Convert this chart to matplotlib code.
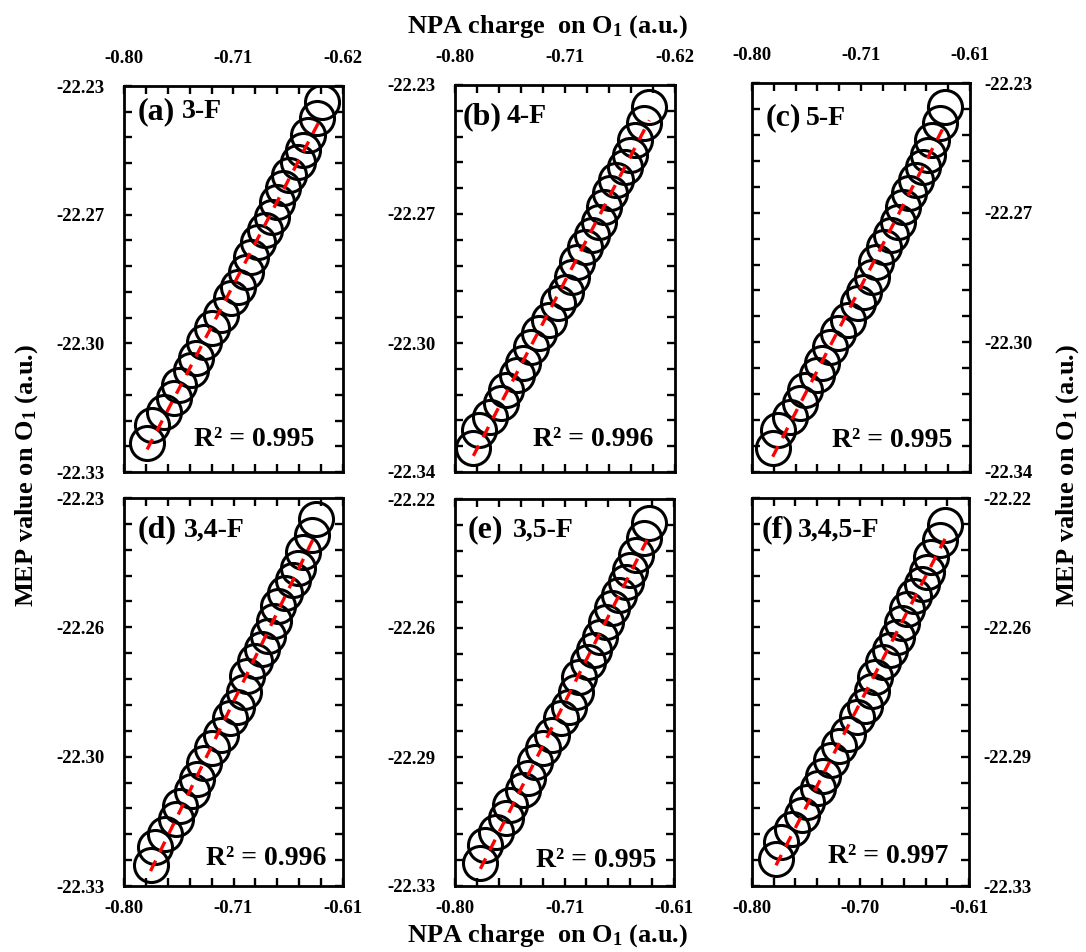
import numpy as np
import matplotlib
matplotlib.use("Agg")
import matplotlib.pyplot as plt
from matplotlib.ticker import FixedLocator, FixedFormatter

plt.rcParams['font.family'] = ['Liberation Serif', 'DejaVu Serif']
plt.rcParams['font.weight'] = 'bold'
plt.rcParams['mathtext.fontset'] = 'custom'
plt.rcParams['mathtext.rm'] = 'Liberation Serif:bold'
plt.rcParams['mathtext.it'] = 'Liberation Serif:bold'
plt.rcParams['mathtext.bf'] = 'Liberation Serif:bold'

# ---- data ----
panel_tags = ["(a)", "(b)", "(c)", "(d)", "(e)", "(f)"]
panel_names = ["3-F", "4-F", "5-F", "3,4-F", "3,5-F", "3,4,5-F"]
r2_values = ["0.995", "0.996", "0.995", "0.996", "0.995", "0.997"]

x_a = [-0.781, -0.777, -0.767, -0.759, -0.755, -0.745, -0.741, -0.734, -0.728, -0.720, -0.712, -0.706, -0.700,
       -0.696, -0.690, -0.684, -0.678, -0.674, -0.669, -0.664, -0.657, -0.653, -0.649, -0.641, -0.637]
y_a = [-22.3225, -22.3178, -22.3144, -22.3108, -22.3075, -22.3036, -22.3005, -22.2963, -22.2927, -22.2893,
       -22.2849, -22.2821, -22.2782, -22.2743, -22.2704, -22.2673, -22.2639, -22.2600, -22.2564, -22.2531,
       -22.2497, -22.2466, -22.2427, -22.2383, -22.2341]

x_b = [-0.785, -0.780, -0.771, -0.762, -0.758, -0.749, -0.744, -0.738, -0.731, -0.723, -0.716, -0.709, -0.704,
       -0.700, -0.694, -0.688, -0.682, -0.678, -0.673, -0.668, -0.661, -0.657, -0.653, -0.645, -0.641]
y_b = [-22.3332, -22.3280, -22.3243, -22.3203, -22.3166, -22.3124, -22.3090, -22.3044, -22.3004, -22.2968,
       -22.2919, -22.2888, -22.2845, -22.2803, -22.2760, -22.2726, -22.2689, -22.2647, -22.2607, -22.2570,
       -22.2533, -22.2499, -22.2456, -22.2408, -22.2363]

x_c = [-0.782, -0.777, -0.767, -0.758, -0.754, -0.743, -0.739, -0.732, -0.725, -0.716, -0.708, -0.702, -0.695,
       -0.692, -0.685, -0.679, -0.673, -0.668, -0.663, -0.657, -0.651, -0.647, -0.643, -0.636, -0.632]
y_c = [-22.3332, -22.3281, -22.3244, -22.3205, -22.3168, -22.3126, -22.3092, -22.3047, -22.3007, -22.2970,
       -22.2922, -22.2891, -22.2849, -22.2806, -22.2764, -22.2730, -22.2693, -22.2651, -22.2611, -22.2574,
       -22.2538, -22.2504, -22.2461, -22.2413, -22.2368]

x_d = [-0.777, -0.773, -0.764, -0.755, -0.751, -0.741, -0.737, -0.731, -0.724, -0.716, -0.708, -0.702, -0.696,
       -0.693, -0.686, -0.680, -0.675, -0.670, -0.666, -0.660, -0.653, -0.649, -0.645, -0.637, -0.633]
y_d = [-22.3246, -22.3199, -22.3165, -22.3128, -22.3094, -22.3055, -22.3024, -22.2982, -22.2945, -22.2911,
       -22.2867, -22.2838, -22.2799, -22.2759, -22.2720, -22.2689, -22.2655, -22.2616, -22.2579, -22.2545,
       -22.2511, -22.2480, -22.2440, -22.2396, -22.2354]

x_e = [-0.778, -0.774, -0.764, -0.756, -0.752, -0.741, -0.737, -0.731, -0.724, -0.716, -0.708, -0.701, -0.695,
       -0.692, -0.685, -0.679, -0.674, -0.669, -0.664, -0.658, -0.652, -0.648, -0.643, -0.636, -0.632]
y_e = [-22.3234, -22.3183, -22.3146, -22.3106, -22.3069, -22.3026, -22.2992, -22.2947, -22.2907, -22.2870,
       -22.2822, -22.2791, -22.2748, -22.2706, -22.2663, -22.2629, -22.2592, -22.2549, -22.2510, -22.2473,
       -22.2436, -22.2402, -22.2359, -22.2311, -22.2268]

x_f = [-0.779, -0.775, -0.765, -0.756, -0.752, -0.742, -0.738, -0.731, -0.724, -0.716, -0.708, -0.701, -0.695,
       -0.692, -0.685, -0.679, -0.673, -0.669, -0.664, -0.658, -0.651, -0.647, -0.643, -0.635, -0.631]
y_f = [-22.3223, -22.3174, -22.3137, -22.3098, -22.3062, -22.3021, -22.2987, -22.2943, -22.2904, -22.2868,
       -22.2821, -22.2790, -22.2748, -22.2707, -22.2665, -22.2631, -22.2595, -22.2554, -22.2515, -22.2479,
       -22.2443, -22.2410, -22.2368, -22.2320, -22.2277]

xs = [x_a, x_b, x_c, x_d, x_e, x_f]
ys = [y_a, y_b, y_c, y_d, y_e, y_f]

x_limits = [(-0.80, -0.62), (-0.80, -0.62), (-0.80, -0.61), (-0.80, -0.61), (-0.80, -0.61), (-0.80, -0.61)]
y_limits = [(-22.33, -22.23), (-22.34, -22.23), (-22.34, -22.23), (-22.33, -22.23), (-22.33, -22.22), (-22.33, -22.22)]
x_ticklabels = [["-0.80", "-0.71", "-0.62"], ["-0.80", "-0.71", "-0.62"], ["-0.80", "-0.71", "-0.61"],
                ["-0.80", "-0.71", "-0.61"], ["-0.80", "-0.71", "-0.61"], ["-0.80", "-0.70", "-0.61"]]
y_ticklabels = [["-22.33", "-22.30", "-22.27", "-22.23"], ["-22.34", "-22.30", "-22.27", "-22.23"],
                ["-22.34", "-22.30", "-22.27", "-22.23"], ["-22.33", "-22.30", "-22.26", "-22.23"],
                ["-22.33", "-22.29", "-22.26", "-22.22"], ["-22.33", "-22.29", "-22.26", "-22.22"]]

# ---- layout ----
W, H = 1086, 952
boxes = [(124, 343, 86, 472), (455, 675, 85, 472), (752, 970, 83, 472),
         (124, 343, 498, 886), (455, 674, 499, 886), (752, 969, 498, 886)]
tag_pos = [(0.062, 0.933), (0.036, 0.918), (0.064, 0.910), (0.061, 0.918), (0.058, 0.920), (0.045, 0.918)]
name_pos = [0.263, 0.235, 0.248, 0.274, 0.266, 0.213]
r2_pos = [(0.87, 0.083), (0.90, 0.083), (0.92, 0.080), (0.925, 0.072), (0.92, 0.067), (0.905, 0.075)]

fig = plt.figure(figsize=(W / 100, H / 100), dpi=100)

for i in range(6):
    l, r, t, b = boxes[i]
    ax = fig.add_axes([l / W, 1 - b / H, (r - l) / W, (b - t) / H])
    x = np.array(xs[i])
    y = np.array(ys[i])

    ax.plot(x, y, 'o', mfc='none', mec='black', ms=24.5, mew=2.2, zorder=2)
    k, c = np.polyfit(x, y, 1)
    xf = np.array([x.min(), x.max()])
    ax.plot(xf, k * xf + c, color='#ff0000', lw=2.4, ls=(0, (3.5, 2.8)), zorder=3)

    x0, x1 = x_limits[i]
    y0, y1 = y_limits[i]
    ax.set_xlim(x0, x1)
    ax.set_ylim(y0, y1)
    ax.xaxis.set_major_locator(FixedLocator(np.linspace(x0, x1, 3)))
    ax.xaxis.set_minor_locator(FixedLocator(np.linspace(x0, x1, 11)))
    ax.yaxis.set_major_locator(FixedLocator(np.linspace(y0, y1, 4)))
    ax.yaxis.set_minor_locator(FixedLocator(np.linspace(y0, y1, 16)))
    ax.xaxis.set_major_formatter(FixedFormatter(x_ticklabels[i]))
    ax.yaxis.set_major_formatter(FixedFormatter(y_ticklabels[i]))

    top_row = i < 3
    right_col = i % 3 == 2
    for which in ('major', 'minor'):
        ax.tick_params(which=which, direction='in', length=5.5, width=1.7,
                       top=True, bottom=True, left=True, right=True,
                       labeltop=top_row, labelbottom=not top_row,
                       labelleft=not right_col, labelright=right_col)
    ax.tick_params(axis='x', which='major', labelsize=13.5, pad=14 if top_row else 10)
    ax.tick_params(axis='y', which='major', labelsize=13.5, pad=14 if not right_col else 10)
    for lab in ax.get_xticklabels() + ax.get_yticklabels():
        lab.set_fontweight('bold')
    for sp in ax.spines.values():
        sp.set_linewidth(2.0)

    ax.text(tag_pos[i][0], tag_pos[i][1], panel_tags[i], transform=ax.transAxes,
            fontsize=23, fontweight='bold', va='center', ha='left')
    ax.text(name_pos[i], tag_pos[i][1], panel_names[i], transform=ax.transAxes,
            fontsize=20, fontweight='bold', va='center', ha='left')
    ax.text(r2_pos[i][0], r2_pos[i][1], "R² = " + r2_values[i], transform=ax.transAxes,
            fontsize=20, fontweight='bold', va='center', ha='right')

xlab = r'NPA charge  on O$_{\mathrm{1}}$ (a.u.)'
ylab = r'MEP value on O$_{\mathrm{1}}$ (a.u.)'
fig.text(548 / W, 1 - 27 / H, xlab, ha='center', va='center', fontsize=19, fontweight='bold')
fig.text(548 / W, 1 - 936 / H, xlab, ha='center', va='center', fontsize=19, fontweight='bold')
fig.text(27 / W, 0.5, ylab, rotation=90, ha='center', va='center', fontsize=19, fontweight='bold')
fig.text(1068 / W, 0.5, ylab, rotation=90, ha='center', va='center', fontsize=19, fontweight='bold')

fig.savefig("out.png", dpi=100)
